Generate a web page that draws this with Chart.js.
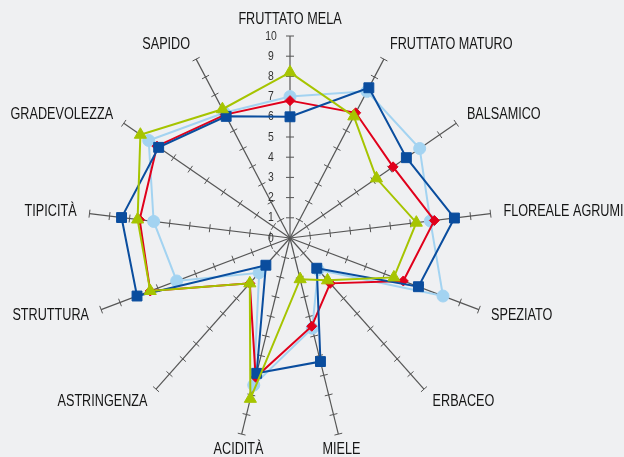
<!DOCTYPE html>
<html>
<head>
<meta charset="utf-8">
<script src="https://cdn.jsdelivr.net/npm/chart.js@4.4.1/dist/chart.umd.min.js"></script>
<style>
  html, body { margin: 0; padding: 0; background: #eff0f2; }
  #wrap { width: 624px; height: 457px; }
</style>
</head>
<body>
<div id="wrap"><canvas id="radar" width="624" height="457"></canvas></div>
<script>
// axes, clockwise from the top
var categories = ["FRUTTATO MELA", "FRUTTATO MATURO", "BALSAMICO", "FLOREALE AGRUMI", "SPEZIATO",
  "ERBACEO", "MIELE", "ACIDITÀ", "ASTRINGENZA", "STRUTTURA", "TIPICITÀ", "GRADEVOLEZZA", "SAPIDO"];
var tickLabels = ["0", "1", "2", "3", "4", "5", "6", "7", "8", "9", "10"];

// series values
var blueValues      = [6.0, 8.4, 7.0, 8.2, 6.8, 2.0, 6.3, 6.9, 1.8, 8.1, 8.4, 7.9, 6.8];
var redValues       = [6.8, 7.0, 6.2, 7.2, 6.0, 3.0, 4.5, 7.1, 3.0, 7.4, 7.5, 8.0, 6.9];
var lightBlueValues = [7.0, 8.2, 7.8, 7.0, 8.1, 2.1, 4.6, 7.5, 2.3, 6.0, 6.8, 8.5, 7.0];
var greenValues     = [8.2, 6.8, 5.2, 6.3, 5.5, 2.8, 2.1, 8.2, 3.0, 7.4, 7.6, 9.0, 7.2];

var FONT = "'Liberation Sans', Arial, sans-serif";
var SPOKE = "#555555";

// no condensed face installed, so squeeze a normal one
function narrowText(ctx, text, x, y, squeeze) {
  ctx.save();
  ctx.translate(x, y);
  ctx.scale(squeeze, 1);
  ctx.fillText(text, 0, 0);
  ctx.restore();
}

// tick marks across every spoke, plus the 0..10 labels on the top one
var spokeTicks = {
  id: "spokeTicks",
  beforeDatasetsDraw: function(chart) {
    var scale = chart.scales.r;
    var ctx = chart.ctx;
    ctx.save();
    ctx.strokeStyle = SPOKE;
    ctx.lineWidth = 1;
    for (var i = 0; i < categories.length; i++) {
      var a = scale.getIndexAngle(i);
      var px = Math.cos(a) * 4, py = Math.sin(a) * 4;
      for (var v = 1; v < tickLabels.length; v++) {
        var p = scale.getPointPositionForValue(i, v);
        ctx.beginPath();
        ctx.moveTo(p.x - px, p.y - py);
        ctx.lineTo(p.x + px, p.y + py);
        ctx.stroke();
      }
    }
    ctx.fillStyle = "#333333";
    ctx.font = "13px " + FONT;
    ctx.textAlign = "center";
    ctx.textBaseline = "middle";
    tickLabels.forEach(function(t, v) {
      var p = scale.getPointPositionForValue(0, v);
      narrowText(ctx, t, p.x - 19, p.y, 0.8);
    });
    ctx.restore();
  },
  afterDraw: function(chart) {
    var scale = chart.scales.r;
    var ctx = chart.ctx;
    var R = scale.drawingArea;
    ctx.save();
    ctx.fillStyle = "#151515";
    ctx.font = "16px " + FONT;
    ctx.textBaseline = "middle";
    categories.forEach(function(name, i) {
      var s = Math.sin(scale.getIndexAngle(i));
      var px = scale.getPointPosition(i, R + 13).x;
      var py = scale.getPointPosition(i, R + 16).y;
      ctx.textAlign = Math.abs(s) < 0.3 ? "center" : (s > 0 ? "left" : "right");
      narrowText(ctx, name, px, py, 0.79);
    });
    ctx.restore();
  }
};

function series(label, data, color, style, radius, order) {
  return {
    label: label,
    data: data,
    order: order,
    borderColor: color,
    backgroundColor: color,
    pointBackgroundColor: color,
    pointBorderColor: color,
    borderWidth: 2,
    fill: false,
    pointStyle: style,
    pointRadius: radius,
    pointBorderWidth: 1
  };
}

new Chart(document.getElementById("radar"), {
  type: "radar",
  data: {
    labels: categories,
    datasets: [
      series("verde", greenValues, "#a6c400", "triangle", 7, 0),
      series("blu", blueValues, "#0a4d9e", "rect", 7, 1),
      series("rosso", redValues, "#e0001b", "rectRot", 5, 2),
      series("azzurro", lightBlueValues, "#a3d3f1", "circle", 6, 3)
    ]
  },
  options: {
    responsive: false,
    animation: false,
    layout: { padding: { left: 88, right: 132, top: 36, bottom: 17 } },
    plugins: { legend: { display: false }, tooltip: { enabled: false } },
    elements: { line: { tension: 0 } },
    scales: {
      r: {
        min: 0,
        max: 10,
        beginAtZero: true,
        grid: { display: false },
        angleLines: { display: true, color: SPOKE, lineWidth: 1.2 },
        pointLabels: { display: false },
        ticks: { display: false, stepSize: 1 }
      }
    }
  },
  plugins: [spokeTicks]
});
</script>
</body>
</html>
